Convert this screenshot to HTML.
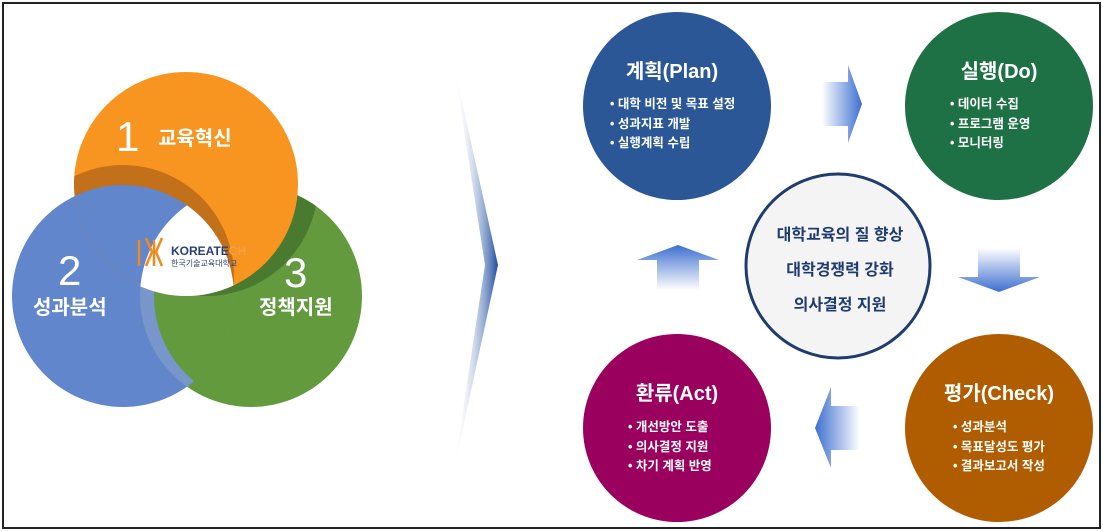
<!DOCTYPE html>
<html><head><meta charset="utf-8"><style>
html,body{margin:0;padding:0;background:#fff;}
svg{display:block;font-family:"Liberation Sans","Noto Sans CJK KR",sans-serif;}
</style></head><body>
<svg width="1103" height="531" viewBox="0 0 1103 531" xmlns="http://www.w3.org/2000/svg">
<defs>
<clipPath id="cO"><circle cx="186" cy="184" r="112"/></clipPath>
<clipPath id="cB"><circle cx="123" cy="296" r="111"/></clipPath>
<clipPath id="cG"><circle cx="251" cy="296" r="111"/></clipPath>
<linearGradient id="chev" x1="0" y1="0" x2="1" y2="0"><stop offset="0" stop-color="#fff" stop-opacity="0"/><stop offset="1" stop-color="#1f4ea0"/></linearGradient>
<linearGradient id="gR" x1="0" y1="0" x2="1" y2="0"><stop offset="0" stop-color="#fff"/><stop offset="1" stop-color="#3d6fd0"/></linearGradient>
<linearGradient id="gL" x1="1" y1="0" x2="0" y2="0"><stop offset="0" stop-color="#fff"/><stop offset="1" stop-color="#3d6fd0"/></linearGradient>
<linearGradient id="gD" x1="0" y1="0" x2="0" y2="1"><stop offset="0" stop-color="#fff"/><stop offset="1" stop-color="#3d6fd0"/></linearGradient>
<linearGradient id="gU" x1="0" y1="1" x2="0" y2="0"><stop offset="0" stop-color="#fff"/><stop offset="1" stop-color="#3d6fd0"/></linearGradient>
</defs>
<rect x="3" y="3" width="1097" height="525" fill="#fff" stroke="#222" stroke-width="2"/>

<!-- venn -->
<circle cx="123" cy="296" r="111" fill="#6186cc"/>
<circle cx="251" cy="296" r="111" fill="#629a3d"/>
<g clip-path="url(#cB)"><g clip-path="url(#cG)">
  <rect x="0" y="150" width="400" height="300" fill="#7896cc"/>
  <circle cx="265" cy="296" r="111" fill="#629a3d"/>
</g></g>
<g clip-path="url(#cG)"><circle cx="206" cy="184" r="112" fill="#4a7a30"/></g>
<circle cx="186" cy="184" r="112" fill="#f89520"/>
<g clip-path="url(#cO)"><circle cx="123" cy="276" r="111" fill="#c2711a"/></g>
<g clip-path="url(#cO)"><circle cx="123" cy="296" r="111" fill="#6186cc"/></g>
<g clip-path="url(#cB)"><g clip-path="url(#cG)"><circle cx="186" cy="184" r="112" fill="#fff"/></g></g>
<text x="116" y="151" font-size="42" fill="#fff">1</text>
<text x="158" y="145" font-size="20" font-weight="bold" fill="#fff">교육혁신</text>
<text x="58" y="285" font-size="42" fill="#fff">2</text>
<text x="33" y="314" font-size="20" font-weight="bold" fill="#fff">성과분석</text>
<text x="284" y="287" font-size="42" fill="#fff">3</text>
<text x="259" y="314" font-size="20" font-weight="bold" fill="#fff">정책지원</text>
<g stroke="#f08a1a" stroke-width="2.5" fill="none"><path d="M139 240 v26 M146 238 l6 14 -6 14 M154 240 v26 M162 238 l-6 14 6 14"/></g>
<text x="171" y="255" font-size="12" font-weight="bold" fill="#2a3f7a">KOREATE<tspan fill="#f3a040">CH</tspan></text>
<text x="171" y="266" font-size="8" fill="#2a3f7a">한국기술교육대학교</text>

<!-- chevron -->
<path d="M453 60 L498 265 L453 475 L485 265 Z" fill="url(#chev)"/>

<!-- arrows -->
<path d="M822 82 H848 V65 L862 104 L848 143 V126 H822 Z" fill="url(#gR)"/>
<path d="M860 406 H831 V387 L815 428 L831 468 V450 H860 Z" fill="url(#gL)"/>
<path d="M978 248 H1020 V277 H1040 L999 292 L958 277 H978 Z" fill="url(#gD)"/>
<path d="M657 290 H699 V260 H719 L678 245 L637 260 H657 Z" fill="url(#gU)"/>

<!-- PDCA circles -->
<circle cx="677" cy="106" r="94" fill="#2b5797"/>
<text x="672" y="78" font-size="20" font-weight="bold" fill="#fff" text-anchor="middle">계획(Plan)</text>
<g font-size="12.5" font-weight="bold" fill="#fff">
<text x="610" y="108">• 대학 비전 및 목표 설정</text>
<text x="610" y="128">• 성과지표 개발</text>
<text x="610" y="147">• 실행계획 수립</text>
</g>
<circle cx="999" cy="106" r="94" fill="#1e7145"/>
<text x="999" y="78" font-size="20" font-weight="bold" fill="#fff" text-anchor="middle">실행(Do)</text>
<g font-size="12.5" font-weight="bold" fill="#fff">
<text x="950" y="108">• 데이터 수집</text>
<text x="950" y="128">• 프로그램 운영</text>
<text x="950" y="147">• 모니터링</text>
</g>
<circle cx="677" cy="428" r="94" fill="#9a005e"/>
<text x="677" y="400" font-size="20" font-weight="bold" fill="#fff" text-anchor="middle">환류(Act)</text>
<g font-size="12.5" font-weight="bold" fill="#fff">
<text x="628" y="431">• 개선방안 도출</text>
<text x="628" y="451">• 의사결정 지원</text>
<text x="628" y="470">• 차기 계획 반영</text>
</g>
<circle cx="999" cy="428" r="94" fill="#b05c00"/>
<text x="999" y="400" font-size="20" font-weight="bold" fill="#fff" text-anchor="middle">평가(Check)</text>
<g font-size="12.5" font-weight="bold" fill="#fff">
<text x="953" y="431">• 성과분석</text>
<text x="953" y="451">• 목표달성도 평가</text>
<text x="953" y="470">• 결과보고서 작성</text>
</g>

<circle cx="838" cy="266" r="92" fill="#f4f4f4" stroke="#1f3c6e" stroke-width="3"/>
<g font-size="16" font-weight="bold" fill="#1f3c6e" text-anchor="middle">
<text x="840" y="240">대학교육의 질 향상</text>
<text x="840" y="275">대학경쟁력 강화</text>
<text x="840" y="310">의사결정 지원</text>
</g>
</svg>
</body></html>
